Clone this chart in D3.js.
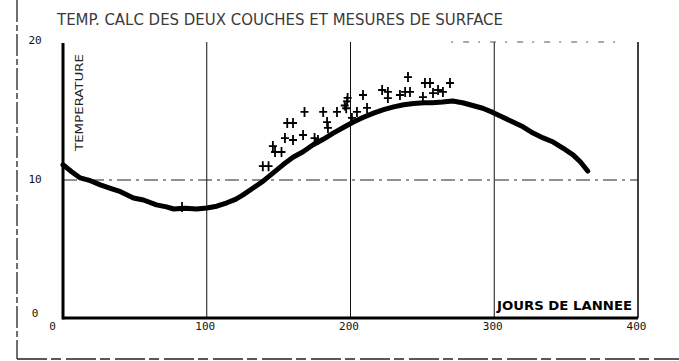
<!DOCTYPE html>
<html><head><meta charset="utf-8">
<script src="https://cdn.jsdelivr.net/npm/d3@7"></script>
<style>
html,body{margin:0;padding:0;background:#fff;}
svg{display:block;}
</style></head>
<body>
<svg id="c" width="679" height="361"></svg>
<script>
// ---- data ----
const curveDays  = [0, 6, 12, 19, 26, 33, 40, 49, 56, 65, 72, 77, 85, 93, 100, 107, 114, 120, 125, 132, 139, 146, 153, 160, 167, 174, 181, 188, 195, 202, 209, 216, 223, 230, 237, 244, 251, 257, 264, 271, 278, 285, 292, 299, 306, 313, 320, 327, 334, 341, 348, 355, 360, 365];
const curveTemps = [11.1, 10.6, 10.15, 9.95, 9.65, 9.4, 9.15, 8.7, 8.55, 8.2, 8.05, 7.9, 7.95, 7.9, 7.97, 8.1, 8.35, 8.6, 8.9, 9.4, 9.9, 10.5, 11.1, 11.65, 12.05, 12.55, 12.95, 13.4, 13.8, 14.2, 14.55, 14.85, 15.1, 15.3, 15.45, 15.55, 15.6, 15.6, 15.65, 15.72, 15.6, 15.4, 15.2, 14.9, 14.55, 14.2, 13.85, 13.4, 13.05, 12.75, 12.3, 11.8, 11.3, 10.65];
const measDays  = [82.8, 139, 143, 146, 147.5, 152, 154.4, 156, 160, 160, 167, 168, 175, 177.4, 181, 183.7, 184.3, 190.6, 196, 197, 197.6, 198, 201, 204.5, 208.7, 211.5, 222, 226, 226, 234.4, 238, 240, 241.4, 250.4, 251.8, 255.3, 257.4, 260.9, 264.3, 269.2];
const measTemps = [8.04, 11.0, 11.0, 12.46, 12.03, 12.03, 13.04, 14.13, 14.13, 12.9, 13.26, 14.93, 13.04, 12.9, 14.93, 14.2, 13.77, 14.93, 15.4, 15.2, 15.7, 15.95, 14.5, 14.93, 16.16, 15.22, 16.52, 16.38, 15.94, 16.16, 16.38, 17.46, 16.38, 16.01, 17.03, 17.03, 16.3, 16.52, 16.38, 17.03];
const xTicks = [0, 100, 200, 300, 400];
const yTicks = [0, 10, 20];
const titleText = "TEMP. CALC DES DEUX COUCHES ET MESURES DE SURFACE";
const yLabel = "TEMPERATURE";
const xLabel = "JOURS DE LANNEE";

// ---- drawing ----
const svg = d3.select("#c");
const x = d3.scaleLinear().domain([0, 400]).range([63, 638]);
const y = d3.scaleLinear().domain([0, 20]).range([318, 42]);

// outer frame (scan border)
svg.append("line").attr("x1", 17).attr("x2", 17).attr("y1", 0).attr("y2", 359)
  .attr("stroke", "#222").attr("stroke-width", 1.3).attr("stroke-dasharray", "22 3 6 3");
svg.append("line").attr("x1", 17).attr("x2", 679).attr("y1", 359).attr("y2", 359)
  .attr("stroke", "#222").attr("stroke-width", 1.5).attr("stroke-dasharray", "30 4 10 5");

// vertical grid lines
svg.append("g").selectAll("line").data([100, 200, 300]).join("line")
  .attr("x1", d => x(d)).attr("x2", d => x(d)).attr("y1", y(20)).attr("y2", y(0))
  .attr("stroke", "#111").attr("stroke-width", 1);
// right edge
svg.append("line").attr("x1", x(400)).attr("x2", x(400)).attr("y1", y(20)).attr("y2", y(0))
  .attr("stroke", "#111").attr("stroke-width", 1.6);
// partial top frame
svg.append("line").attr("x1", x(270)).attr("x2", x(390)).attr("y1", y(20)).attr("y2", y(20))
  .attr("stroke", "#555").attr("stroke-width", 1).attr("stroke-dasharray", "2 10 6 9");
// horizontal dashed grid at 10
svg.append("line").attr("x1", x(0)).attr("x2", x(400)).attr("y1", y(10)).attr("y2", y(10))
  .attr("stroke", "#222").attr("stroke-width", 1).attr("stroke-dasharray", "14 5 3 5");

// axes
const xAxis = d3.axisBottom(x).tickValues(xTicks).tickSize(0).tickPadding(4)
  .tickFormat(d3.format("d"));
const gx = svg.append("g").attr("transform", `translate(0,${y(0)})`).call(xAxis);
gx.select(".domain").remove();
gx.selectAll("text").attr("font-family", "DejaVu Sans Mono, monospace").attr("font-size", 11)
  .attr("fill", "#111").attr("dx", (d) => d === 0 ? -11 : -2);

const yAxis = d3.axisLeft(y).tickValues(yTicks).tickSize(0).tickPadding(0)
  .tickFormat(d3.format("d"));
const gy = svg.append("g").attr("transform", `translate(${x(0)},0)`).call(yAxis);
gy.select(".domain").remove();
gy.selectAll("text").attr("font-family", "DejaVu Sans Mono, monospace").attr("font-size", 11)
  .attr("fill", "#111").attr("text-anchor", "middle").attr("x", -28)
  .attr("dy", d => d === 0 ? "-0.1em" : (d === 20 ? "0.1em" : "0.25em"));

// axis lines (thick)
svg.append("line").attr("x1", x(0)).attr("x2", x(0)).attr("y1", y(20) + 1).attr("y2", y(0) + 1.5)
  .attr("stroke", "#000").attr("stroke-width", 3);
svg.append("line").attr("x1", x(0)).attr("x2", x(400)).attr("y1", y(0)).attr("y2", y(0))
  .attr("stroke", "#000").attr("stroke-width", 3);

// computed curve
const line = d3.line().x((d, i) => x(curveDays[i])).y((d, i) => y(curveTemps[i]));
svg.append("path").datum(curveTemps).attr("d", line)
  .attr("fill", "none").attr("stroke", "#000").attr("stroke-width", 5)
  .attr("stroke-linejoin", "round").attr("stroke-linecap", "round");

// measurements (+ markers)
svg.append("g").selectAll("path").data(measDays).join("path")
  .attr("transform", (d, i) => `translate(${x(d)},${y(measTemps[i])})`)
  .attr("d", "M-4,0H4M0,-5V5")
  .attr("stroke", "#000").attr("stroke-width", 1.8).attr("fill", "none");

// title
svg.append("text").attr("x", 57).attr("y", 25).text(titleText)
  .attr("font-family", "DejaVu Sans Condensed, DejaVu Sans, sans-serif").attr("font-size", 15)
  .attr("fill", "#3a3a3a")
  .attr("textLength", 446).attr("lengthAdjust", "spacingAndGlyphs");

// y label
svg.append("text").attr("transform", "translate(83,151) rotate(-90)").text(yLabel)
  .attr("font-family", "DejaVu Sans Condensed, DejaVu Sans, sans-serif").attr("font-size", 10)
  .attr("fill", "#222").attr("textLength", 97).attr("lengthAdjust", "spacingAndGlyphs");

// x label
svg.append("text").attr("x", 497).attr("y", 310).text(xLabel)
  .attr("font-family", "DejaVu Sans Condensed, DejaVu Sans, sans-serif").attr("font-size", 13)
  .attr("font-weight", "bold").attr("fill", "#000")
  .attr("textLength", 135).attr("lengthAdjust", "spacingAndGlyphs");
</script>
</body></html>
